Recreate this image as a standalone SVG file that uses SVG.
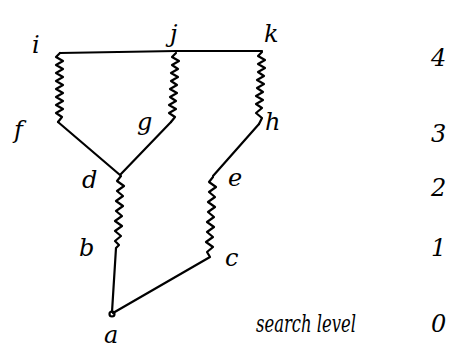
<svg xmlns="http://www.w3.org/2000/svg" width="456" height="349" viewBox="0 0 456 349">
<style>
.e{fill:none;stroke:#000;stroke-width:2.2;stroke-linejoin:round;stroke-linecap:round}
text{font-family:"DejaVu Serif","Liberation Serif",serif;font-style:italic;font-size:24px;fill:#000}
.n{font-size:24px}
</style>
<rect width="456" height="349" fill="#fff"/>
<g id="connectors">
<path class="e" d="M60,53 L176,51 L262,51"/>
<path class="e" d="M60,53 L56,57 L63,61 L56,65 L63,69 L56,73 L63,77 L56,81 L63,85 L56,89 L63,93 L56,97 L63,101 L56,105 L63,109 L56,113 L62,117 L58,122"/>
<path class="e" d="M176,53 L172,57 L179,61 L172,65 L178,69 L171,73 L178,77 L171,81 L177,85 L170,89 L177,93 L170,97 L176,101 L169,105 L176,109 L169,113 L175,117 L171,122"/>
<path class="e" d="M262,52 L258,56 L265,60 L258,64 L265,68 L258,72 L264,76 L257,80 L264,84 L257,88 L263,92 L256,96 L263,100 L256,104 L262,108 L256,113 L262,118 L259,124"/>
<path class="e" d="M58,122 L120,175 L171,122"/>
<path class="e" d="M259,124 L213,176"/>
<path class="e" d="M121,176 L117,181 L124,186 L117,191 L123,196 L116,201 L123,206 L116,211 L122,216 L115,221 L122,226 L115,231 L121,236 L115,241 L119,245 L116,248 L112,312"/>
<path class="e" d="M213,177 L209,182 L216,187 L209,192 L215,197 L208,202 L215,207 L208,212 L214,217 L207,222 L214,227 L207,232 L213,237 L206,242 L213,247 L207,252 L210,257 L113,313"/>
<circle class="e" cx="112" cy="314" r="2.5"/>
</g>
<g id="i"><text x="32" y="53">i</text></g>
<g id="j"><text x="170" y="42">j</text></g>
<g id="k"><text x="264" y="42">k</text></g>
<g id="f"><text x="14" y="138">f</text></g>
<g id="g"><text x="137" y="130">g</text></g>
<g id="h"><text x="265" y="130">h</text></g>
<g id="d"><text x="82" y="188">d</text></g>
<g id="e"><text x="228" y="186">e</text></g>
<g id="b"><text x="79" y="256">b</text></g>
<g id="c"><text x="225" y="266">c</text></g>
<g id="a"><text x="104" y="343">a</text></g>
<g id="levels">
<text class="n" x="431" y="66">4</text>
<text class="n" x="431" y="142">3</text>
<text class="n" x="431" y="196">2</text>
<text class="n" x="431" y="256">1</text>
<text class="n" x="256" y="332" textLength="100" lengthAdjust="spacingAndGlyphs">search level</text>
<text class="n" x="431" y="332">0</text>
</g>
</svg>
